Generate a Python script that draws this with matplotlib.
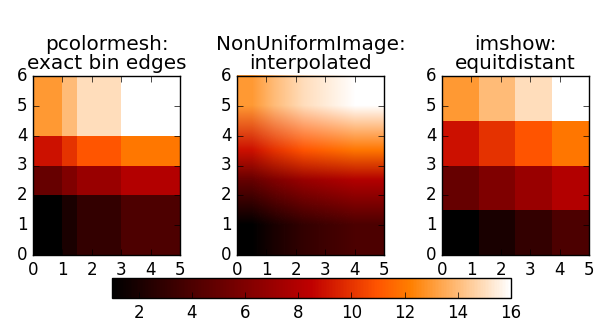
import numpy as np
import matplotlib
matplotlib.use("Agg")
import matplotlib.pyplot as plt
from matplotlib.image import NonUniformImage
from matplotlib.colors import Normalize

plt.style.use("classic")

# Bin edges and bin contents (rows follow y, columns follow x)
xedges = np.array([0, 1, 1.5, 3, 5])
yedges = np.array([0, 2, 3, 4, 6])
H = np.array([
    [1, 2, 3, 4],
    [5, 6, 7, 8],
    [9, 10, 11, 12],
    [13, 14, 15, 16],
])
colorbar_ticks = [2, 4, 6, 8, 10, 12, 14, 16]

cmap = plt.get_cmap("gist_heat")
norm = Normalize(vmin=H.min(), vmax=H.max())

fig = plt.figure(figsize=(6.12, 3.32), dpi=100, facecolor="white")
W, Hh = 612, 332

def axes_px(x0, y0, x1, y1):
    return fig.add_axes([x0 / W, 1 - y1 / Hh, (x1 - x0) / W, (y1 - y0) / Hh])

# pcolormesh with the true bin edges
ax1 = axes_px(33, 76, 180, 255)
X, Y = np.meshgrid(xedges, yedges)
mesh = ax1.pcolormesh(X, Y, H, cmap=cmap, norm=norm)
ax1.set_title("pcolormesh:\nexact bin edges", fontsize=14.4, linespacing=1.0)
ax1.set_xlim(xedges[0], xedges[-1])
ax1.set_ylim(yedges[0], yedges[-1])

# NonUniformImage with bilinear interpolation between bin centres
ax2 = axes_px(237, 76, 384, 255)
im = NonUniformImage(ax2, interpolation="bilinear", cmap=cmap, norm=norm,
                     extent=(xedges[0], xedges[-1], yedges[0], yedges[-1]))
xcenters = (xedges[:-1] + xedges[1:]) / 2
ycenters = (yedges[:-1] + yedges[1:]) / 2
im.set_data(xcenters, ycenters, H)
ax2.add_image(im)
ax2.set_xlim(xedges[0], xedges[-1])
ax2.set_ylim(yedges[0], yedges[-1])
ax2.set_title("NonUniformImage:\ninterpolated", fontsize=14.4, linespacing=1.0)

# imshow treating bins as equidistant
ax3 = axes_px(442, 76, 589, 255)
ax3.imshow(H, interpolation="nearest", origin="lower", cmap=cmap, norm=norm,
           extent=[xedges[0], xedges[-1], yedges[0], yedges[-1]], aspect="auto")
ax3.set_title("imshow:\nequitdistant", fontsize=14.4, linespacing=1.0)
ax3.set_xlim(xedges[0], xedges[-1])
ax3.set_ylim(yedges[0], yedges[-1])

for ax in (ax1, ax2, ax3):
    ax.set_xticks(range(0, 6))
    ax.set_yticks(range(0, 7))
    ax.tick_params(labelsize=12)

cax = axes_px(112, 278, 511, 298)
cb = fig.colorbar(mesh, cax=cax, orientation="horizontal", ticks=colorbar_ticks)
cb.ax.tick_params(labelsize=12)

fig.savefig("out.png", dpi=100, facecolor="white")
